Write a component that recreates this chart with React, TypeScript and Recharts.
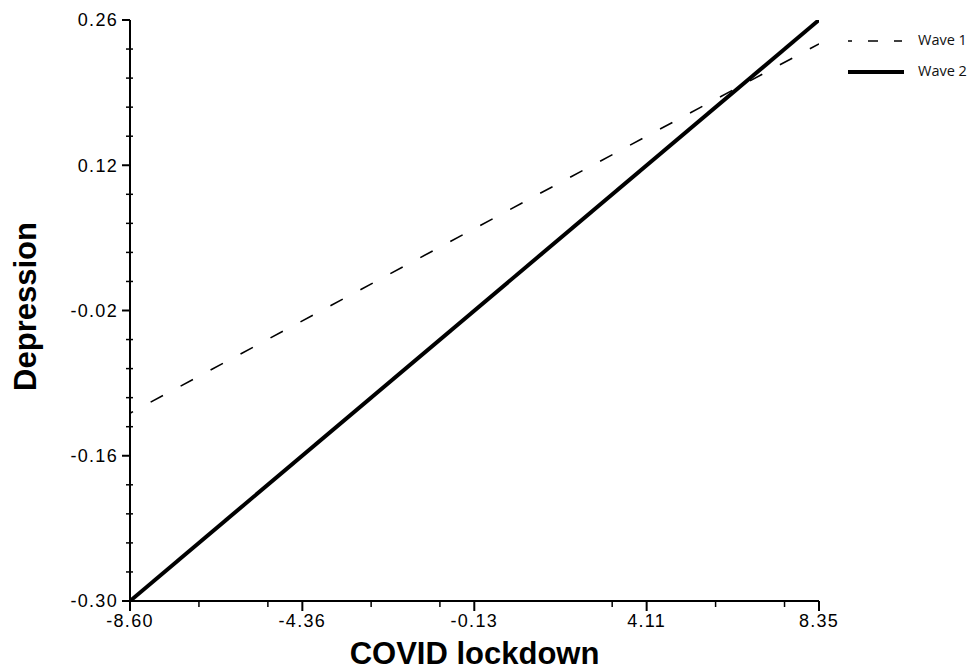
import React from 'react';
import { LineChart, Line, XAxis, YAxis, Legend, Label } from 'recharts';

const xValues = [-8.6, 8.35];
const wave1 = [-0.119, 0.237];
const wave2 = [-0.3, 0.26];

const xTicks = [-8.6, -4.36, -0.13, 4.11, 8.35];
const yTicks = [-0.3, -0.16, -0.02, 0.12, 0.26];

const data = xValues.map((x, i) => ({ x, wave1: wave1[i], wave2: wave2[i] }));

// four minor ticks between each pair of major ticks
const minorTicks = (major: number[]) => {
  const out: number[] = [];
  for (let i = 0; i < major.length - 1; i++) {
    const a = major[i];
    const b = major[i + 1];
    for (let k = 1; k < 5; k++) out.push(a + ((b - a) * k) / 5);
  }
  return out;
};

const FONT = '"Liberation Sans", Arial, sans-serif';
const tickFont = { fill: '#000', fontSize: 18, fontFamily: FONT, letterSpacing: 1.3 };
const axisLine = { stroke: '#000', strokeWidth: 2 };
const majorTick = { stroke: '#000', strokeWidth: 2 };
const noLabel = () => <g />;

const legendLines: Record<string, { dash?: string; width: number }> = {
  'Wave 1': { dash: '4 16 10 16 8', width: 1.6 },
  'Wave 2': { width: 4 },
};

const renderLegend = (props: any) => (
  <div>
    {(props.payload || []).map((entry: any) => {
      const s = legendLines[entry.value] || { width: 2 };
      return (
        <div key={entry.value} style={{ display: 'flex', alignItems: 'center', height: 31 }}>
          <svg width={56} height={10}>
            <line x1={0} y1={5} x2={56} y2={5} stroke="#000" strokeWidth={s.width} strokeDasharray={s.dash} />
          </svg>
          <span style={{ marginLeft: 14, fontFamily: '"Open Sans", sans-serif', fontSize: 14.5, color: '#111', lineHeight: 1 }}>
            {entry.value}
          </span>
        </div>
      );
    })}
  </div>
);

const App: React.FC = () => {
  return (
    <div style={{ position: 'absolute', left: 0, top: 0, background: '#fff' }}>
      <LineChart width={970} height={672} data={data} margin={{ top: 20, right: 151, bottom: 31, left: 70 }}>
        {/* minor ticks: mirrored axes take no room, lines shifted to sit across / below the axis */}
        <XAxis xAxisId="minor" dataKey="x" type="number" domain={[-8.6, 8.35]} allowDataOverflow ticks={minorTicks(xTicks)}
          height={1} mirror axisLine={false} tickSize={6}
          tickLine={{ stroke: '#000', strokeWidth: 1.5, transform: 'translate(0, 6)' }} tick={noLabel} />
        <YAxis yAxisId="minor" type="number" domain={[-0.3, 0.26]} allowDataOverflow ticks={minorTicks(yTicks)}
          width={1} mirror axisLine={false} tickSize={7}
          tickLine={{ stroke: '#000', strokeWidth: 1.5, transform: 'translate(-4, 0)' }} tick={noLabel} />

        <XAxis xAxisId="main" dataKey="x" type="number" domain={[-8.6, 8.35]} allowDataOverflow ticks={xTicks}
          height={40} axisLine={axisLine} tickSize={10} tickMargin={3} tickLine={majorTick} tick={tickFont}
          tickFormatter={(v: number) => v.toFixed(2)}>
          <Label content={(p: any) => {
            const vb = p.viewBox || {};
            return (
              <text x={vb.x + vb.width / 2} y={664} textAnchor="middle" fontFamily={FONT} fontWeight="bold" fontSize={31} fill="#000">
                COVID lockdown
              </text>
            );
          }} />
        </XAxis>
        <YAxis yAxisId="main" type="number" domain={[-0.3, 0.26]} allowDataOverflow ticks={yTicks}
          width={60} axisLine={axisLine} tickSize={8} tickMargin={4} tickLine={majorTick} tick={tickFont}
          tickFormatter={(v: number) => v.toFixed(2)}>
          <Label content={(p: any) => {
            const vb = p.viewBox || {};
            const cy = vb.y + vb.height / 2 - 4;
            return (
              <text x={36} y={cy} transform={`rotate(-90, 36, ${cy})`} textAnchor="middle" fontFamily={FONT} fontWeight="bold" fontSize={31} fill="#000">
                Depression
              </text>
            );
          }} />
        </YAxis>

        <Legend layout="vertical" align="center" verticalAlign="middle" content={renderLegend}
          wrapperStyle={{ left: 848, top: 25, width: 122 }} />

        <Line xAxisId="main" yAxisId="main" type="linear" dataKey="wave1" name="Wave 1" stroke="#000" strokeWidth={1.6}
          strokeDasharray="14 20" strokeDashoffset={10.6} dot={false} activeDot={false} isAnimationActive={false} />
        <Line xAxisId="main" yAxisId="main" type="linear" dataKey="wave2" name="Wave 2" stroke="#000" strokeWidth={4}
          dot={false} activeDot={false} isAnimationActive={false} />
      </LineChart>
    </div>
  );
};

export default App;
